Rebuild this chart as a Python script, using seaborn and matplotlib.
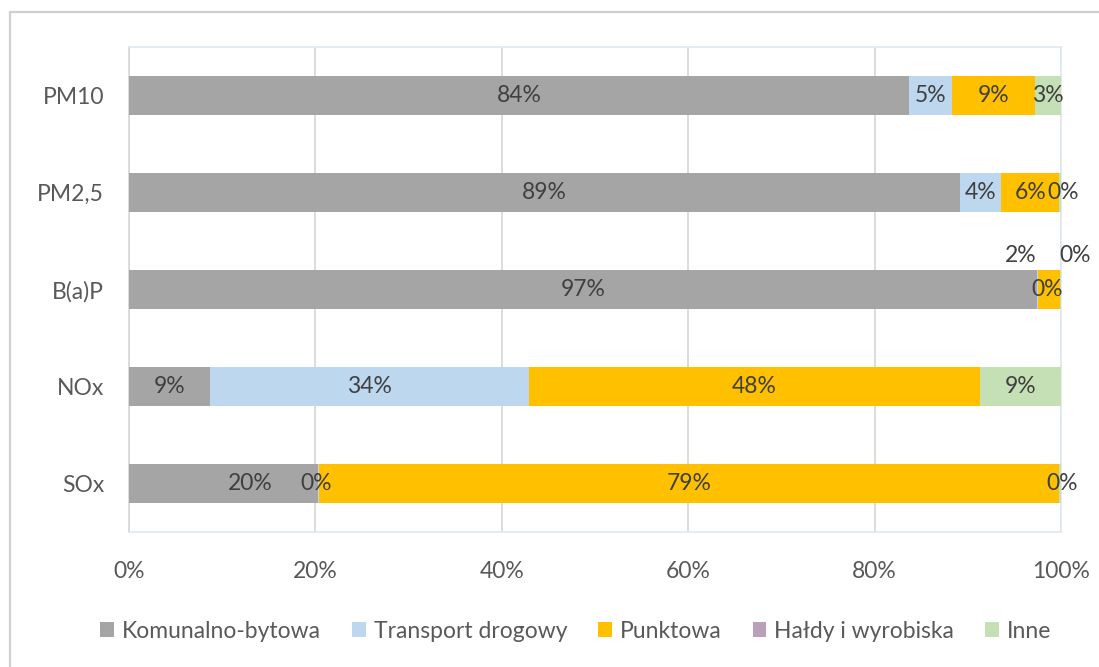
import matplotlib
matplotlib.use("Agg")
import matplotlib.pyplot as plt
from matplotlib.patches import Rectangle, Patch
import numpy as np
import pandas as pd
import seaborn as sns

# Pollutants (rows) and emission source shares in percent
pollutants = ["PM10", "PM2,5", "B(a)P", "NOx", "SOx"]
sources = ["Komunalno-bytowa", "Transport drogowy", "Punktowa", "Hałdy i wyrobiska", "Inne"]

komunalno_bytowa = [83.7, 89.2, 97.4, 8.7, 20.3]
transport_drogowy = [4.6, 4.4, 0.1, 34.2, 0.1]
punktowa = [8.9, 6.2, 2.4, 48.4, 79.4]
haldy_i_wyrobiska = [0.0, 0.0, 0.0, 0.0, 0.0]
inne = [2.8, 0.2, 0.1, 8.7, 0.2]

colors = ["#A5A5A5", "#BDD7EE", "#FFC000", "#B9A2B9", "#C5E0B4"]

series = [komunalno_bytowa, transport_drogowy, punktowa, haldy_i_wyrobiska, inne]
df = pd.DataFrame(dict(zip(sources, series)), index=pollutants)
cum = df.cumsum(axis=1)

sns.set_theme(style="white")
plt.rcParams["font.family"] = ["Lato", "DejaVu Sans"]

fig = plt.figure(figsize=(10.99, 6.67), dpi=100)
ax = fig.add_axes([0.1174, 0.2024, 0.848, 0.7271])

# Outer frame of the chart area
fig.patches.append(Rectangle((10 / 1099, -0.05), 1.2, 1 - 12 / 667 + 0.05,
                             transform=fig.transFigure, fill=False,
                             edgecolor="#D0D0D0", linewidth=1.6, zorder=0))

# Stacked bars: draw cumulative totals from the widest down
for src, col in reversed(list(zip(sources, colors))):
    d = pd.DataFrame({"pollutant": pollutants, "value": cum[src].values})
    sns.barplot(data=d, y="pollutant", x="value", order=pollutants, color=col,
                orient="y", width=0.4, saturation=1, linewidth=0, ax=ax, zorder=3)

# Data labels; pixel offsets for the labels moved away from their segment
offsets = {
    ("B(a)P", "Transport drogowy"): (10, 0),
    ("B(a)P", "Punktowa"): (-28, 34),
    ("B(a)P", "Inne"): (15, 34),
    ("SOx", "Komunalno-bytowa"): (27, 0),
    ("SOx", "Transport drogowy"): (-3, 0),
    ("PM2,5", "Inne"): (3, 0),
    ("SOx", "Inne"): (2, 0),
}
labelled = ["Komunalno-bytowa", "Transport drogowy", "Punktowa", "Inne"]
for i, pol in enumerate(pollutants):
    for src in labelled:
        val = df.loc[pol, src]
        center = cum.loc[pol, src] - val / 2
        dx, dy = offsets.get((pol, src), (0, 0))
        ax.annotate(f"{val:.0f}%", (center, i), xytext=(dx, dy),
                    textcoords="offset pixels", ha="center", va="center",
                    fontsize=16.5, color="#404040", zorder=5,
                    annotation_clip=False)

ax.set_xlim(0, 100)
ax.set_ylim(4.5, -0.5)
ax.set_xticks(np.arange(0, 101, 20))
ax.set_xticklabels([f"{t}%" for t in range(0, 101, 20)])
ax.set_xlabel("")
ax.set_ylabel("")
ax.tick_params(axis="both", length=0, labelsize=16.5, labelcolor="#595959")
ax.tick_params(axis="x", pad=21)
ax.tick_params(axis="y", pad=18)

ax.grid(axis="x", color="#D9D9D9", linewidth=1.3, zorder=0)
ax.set_axisbelow(True)
for side in ["top", "right", "bottom"]:
    ax.spines[side].set_color("#DEE7F2")
    ax.spines[side].set_linewidth(1.2)
ax.spines["left"].set_color("#D9D9D9")
ax.spines["left"].set_linewidth(1.3)

handles = [Patch(facecolor=c, edgecolor="none") for c in colors]
fig.legend(handles, sources, loc="center", bbox_to_anchor=(0.524, 1 - 631 / 667),
           ncol=5, frameon=False, fontsize=16.5, labelcolor="#595959",
           handlelength=0.6, handleheight=0.6, handletextpad=0.35,
           columnspacing=1.35)

fig.savefig("out.png", dpi=100, facecolor="white")
